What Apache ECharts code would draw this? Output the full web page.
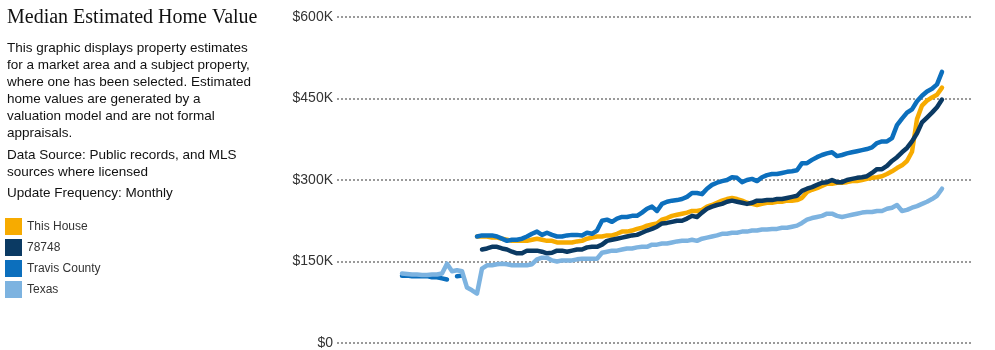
<!DOCTYPE html>
<html>
<head>
<meta charset="utf-8">
<script src="https://cdn.jsdelivr.net/npm/echarts@6/dist/echarts.min.js"></script>
<style>
html,body{margin:0;padding:0;background:#fff;}
#chart{width:995px;height:350px;}
</style>
</head>
<body>
<div id="chart"></div>
<script>
// Monthly index (hidden x axis)
const months = Array.from({length: 109}, (_, i) => i);

// Values in $K
const thisHouse = [null,null,null,null,null,null,null,null,null,null,null,null,null,null,null,196,196,196,194,194,
192,190,188,188,188,188,190,192,190,188,
188,185,185,185,185,187,188,192,194,196,
196,198,198,201,205,205,207,210,212,216,
218,220,227,230,234,236,238,240,243,243,
245,251,254,258,262,265,267,265,262,258,
256,254,256,258,258,260,260,262,262,263,
267,278,282,285,289,293,293,295,295,296,
298,298,300,302,304,305,307,311,316,322,
327,335,352,412,437,446,452,457,470];

const zip78748 = [null,null,null,null,null,null,null,null,null,null,null,null,null,null,null,null,172,174,177,177,
174,172,168,165,165,170,170,170,168,165,
166,170,170,168,170,172,172,176,177,177,
181,188,190,192,194,196,198,199,203,207,
210,214,220,221,223,225,225,229,234,232,
240,247,251,254,256,260,262,260,258,256,
258,262,262,263,263,265,265,267,269,271,
280,284,287,291,295,296,300,296,296,300,
302,304,305,307,313,320,320,326,335,342,
351,359,371,386,406,415,424,434,448];

const travisCounty = [124,124,123,123,123,123,121,121,119,117,
null,123,124,null,null,196,198,198,198,196,
192,188,190,190,192,196,201,205,199,203,
199,196,196,198,199,199,198,203,201,207,
225,227,223,229,232,232,234,234,240,247,
251,243,256,260,262,263,265,269,276,276,
274,284,291,295,298,300,305,304,296,300,
302,298,305,309,311,311,313,315,316,318,
331,331,337,342,346,349,351,344,346,349,
351,353,355,357,360,368,371,371,377,401,
413,424,430,445,455,463,468,476,499];

const texas = [128,127,126,126,125,125,126,126,128,146,
132,134,132,102,97,91,137,143,143,145,
146,145,143,143,143,143,145,154,157,157,
152,150,152,152,152,154,155,155,155,155,
166,168,170,170,172,174,174,176,177,177,
181,181,183,183,185,187,188,188,190,188,
192,194,196,198,201,201,203,203,205,205,
207,207,209,209,210,210,212,212,214,216,
221,227,230,232,234,238,238,234,232,234,
236,238,240,241,241,243,243,247,249,254,
243,245,249,252,256,260,265,271,284];

const seriesNames = ['This House', '78748', 'Travis County', 'Texas'];
const seriesColors = ['#f7ab00', '#0b3a63', '#0c6fbd', '#7db3e0'];
const seriesData = [thisHouse, zip78748, travisCounty, texas];

const yTicks = [0, 150, 300, 450, 600];

const titleText = 'Median Estimated Home Value';
const descLines = [
  'This graphic displays property estimates',
  'for a market area and a subject property,',
  'where one has been selected. Estimated',
  'home values are generated by a',
  'valuation model and are not formal',
  'appraisals.'
];
const sourceLines = ['Data Source: Public records, and MLS', 'sources where licensed'];
const updateLine = 'Update Frequency: Monthly';

const textY = [48, 65, 82, 99, 116, 133];
const srcY = [155, 172];

const bodyFont = '13.5px "Liberation Sans", Arial, sans-serif';
const graphics = [];
graphics.push({type:'text', x:7, y:18, style:{text:titleText, font:'20px "Liberation Serif", serif', fill:'#111', verticalAlign:'middle'}});
descLines.forEach((t, i) => graphics.push({type:'text', x:7, y:textY[i], style:{text:t, font:bodyFont, fill:'#111', verticalAlign:'middle'}}));
sourceLines.forEach((t, i) => graphics.push({type:'text', x:7, y:srcY[i], style:{text:t, font:bodyFont, fill:'#111', verticalAlign:'middle'}}));
graphics.push({type:'text', x:7, y:193, style:{text:updateLine, font:bodyFont, fill:'#111', verticalAlign:'middle'}});

const chart = echarts.init(document.getElementById('chart'), null, {renderer:'canvas'});
chart.setOption({
  animation: false,
  backgroundColor: '#fff',
  graphic: graphics,
  legend: {
    orient: 'vertical',
    left: 5,
    top: 218,
    padding: 0,
    itemWidth: 17,
    itemHeight: 17,
    itemGap: 4,
    icon: 'rect',
    selectedMode: false,
    textStyle: {fontFamily: '"Liberation Sans", Arial, sans-serif', fontSize: 12, color: '#333'},
    data: seriesNames
  },
  grid: {left: 337, right: 23, top: 17, bottom: 4, containLabel: false},
  xAxis: {type: 'value', min: -13, max: 114, show: false},
  yAxis: {
    type: 'value', min: yTicks[0], max: yTicks[yTicks.length-1], interval: 150,
    axisLine: {show:false}, axisTick: {show:false},
    axisLabel: {margin: 4, fontFamily: '"Liberation Sans", Arial, sans-serif', fontSize: 14, color: '#333',
      formatter: v => v === 0 ? '$0' : '$' + v + 'K'},
    splitLine: {show:true, lineStyle: {color: '#9a9a9a', width: 2, type: [2, 2]}}
  },
  series: seriesNames.map((name, k) => ({
    name: name,
    type: 'line',
    data: months.map((m, i) => [m, seriesData[k][i]]),
    showSymbol: false,
    symbol: 'none',
    connectNulls: false,
    color: seriesColors[k],
    lineStyle: {width: 4.5, color: seriesColors[k], cap: 'round', join: 'round'},
    z: 2 + k
  }))
});
</script>
</body>
</html>
